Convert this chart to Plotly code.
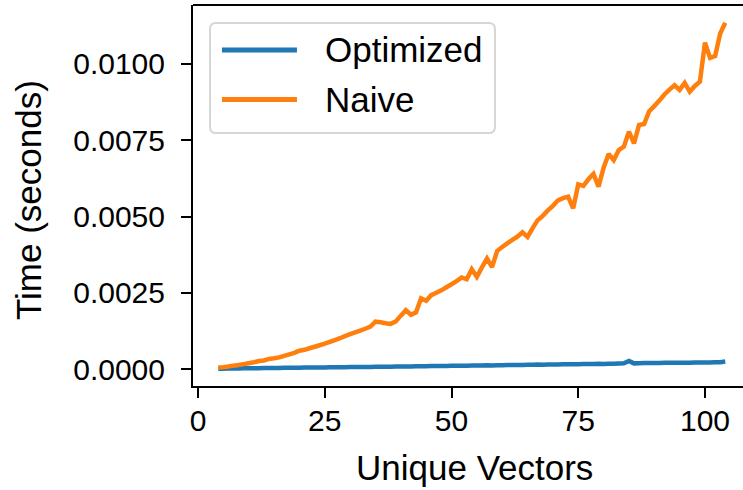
import plotly.graph_objects as go

unique_vectors = list(range(4, 105))

naive = [
    0.00005, 0.00006, 0.00008, 0.00011, 0.00013, 0.00016, 0.00019, 0.00022, 0.00026, 0.00028,
    0.00033, 0.00035, 0.00038, 0.00043, 0.00048, 0.00053, 0.00060, 0.00063, 0.00068, 0.00073,
    0.00078, 0.00083, 0.00089, 0.00095, 0.00101, 0.00108, 0.00114, 0.00120, 0.00126, 0.00132,
    0.00139, 0.00155, 0.00153, 0.00150, 0.00148, 0.00156, 0.00175, 0.00193, 0.00178, 0.00186,
    0.00232, 0.00224, 0.00242, 0.00250, 0.00258, 0.00268, 0.00278, 0.00288, 0.00300, 0.00294,
    0.00327, 0.00302, 0.00333, 0.00362, 0.00334, 0.00387, 0.00400, 0.00412, 0.00423, 0.00434,
    0.00448, 0.00433, 0.00462, 0.00488, 0.00502, 0.00520, 0.00535, 0.00553, 0.00560, 0.00565,
    0.00527, 0.00605, 0.00600, 0.00622, 0.00640, 0.00598, 0.00660, 0.00705, 0.00685, 0.00718,
    0.00729, 0.00778, 0.00740, 0.00800, 0.00803, 0.00845, 0.00862, 0.00880, 0.00900, 0.00916,
    0.00930, 0.00915, 0.00938, 0.00909, 0.00928, 0.00942, 0.01070, 0.01020, 0.01026, 0.01100,
    0.01135,
]

optimized = [
    0.000010, 0.000012, 0.000015, 0.000016, 0.000020, 0.000022, 0.000024, 0.000026, 0.000028, 0.000030,
    0.000032, 0.000034, 0.000036, 0.000038, 0.000040, 0.000041, 0.000044, 0.000046, 0.000047, 0.000049,
    0.000051, 0.000053, 0.000055, 0.000057, 0.000058, 0.000060, 0.000062, 0.000064, 0.000066, 0.000068,
    0.000070, 0.000074, 0.000072, 0.000075, 0.000078, 0.000080, 0.000082, 0.000081, 0.000086, 0.000088,
    0.000092, 0.000090, 0.000095, 0.000097, 0.000099, 0.000101, 0.000106, 0.000104, 0.000109, 0.000110,
    0.000114, 0.000113, 0.000117, 0.000122, 0.000118, 0.000124, 0.000126, 0.000128, 0.000131, 0.000133,
    0.000134, 0.000137, 0.000139, 0.000144, 0.000141, 0.000147, 0.000150, 0.000148, 0.000155, 0.000158,
    0.000154, 0.000160, 0.000163, 0.000165, 0.000168, 0.000171, 0.000167, 0.000176, 0.000172, 0.000182,
    0.000190, 0.000265, 0.000185, 0.000190, 0.000195, 0.000198, 0.000200, 0.000201, 0.000203, 0.000204,
    0.000206, 0.000208, 0.000206, 0.000203, 0.000210, 0.000213, 0.000215, 0.000212, 0.000218, 0.000222,
    0.000245,
]

series_names = ["Optimized", "Naive"]
series_colors = ["#1f77b4", "#ff7f0e"]
x_ticks = [0, 25, 50, 75, 100]
y_ticks = [0.0, 0.0025, 0.005, 0.0075, 0.01]

FONT = "Liberation Sans, Arial, sans-serif"

fig = go.Figure()
for name, vals, col in zip(series_names, [optimized, naive], series_colors):
    fig.add_trace(go.Scatter(x=unique_vectors, y=vals, mode="lines", name=name,
                             line=dict(color=col, width=4.5, simplify=False), showlegend=False))

fig.update_layout(
    width=743, height=490,
    margin=dict(l=193, r=0, t=5, b=104, pad=0),
    paper_bgcolor="white", plot_bgcolor="white",
    font=dict(family=FONT, color="black"),
    xaxis=dict(range=[-0.99, 107.5], tickvals=x_ticks, ticks="outside", ticklen=10, tickwidth=2,
               tickcolor="black", showline=True, linewidth=2, linecolor="black", showgrid=False,
               zeroline=False, tickfont=dict(size=30, family=FONT), ticklabelstandoff=-3),
    yaxis=dict(range=[-0.000557, 0.011934], tickvals=y_ticks, tickformat=".4f", ticks="outside",
               ticklen=10, tickwidth=2, tickcolor="black", showline=True, linewidth=2,
               linecolor="black", showgrid=False, zeroline=False,
               tickfont=dict(size=30, family=FONT), ticklabelstandoff=10),
)

# top spine
fig.add_shape(type="line", xref="paper", yref="paper", x0=0, x1=1, y0=1, y1=1,
              line=dict(color="black", width=2))

# axis titles
fig.add_annotation(text="Unique Vectors", xref="paper", yref="paper", x=0.511, y=-0.215,
                   xanchor="center", yanchor="middle", showarrow=False,
                   font=dict(size=35, family=FONT))
fig.add_annotation(text="Time (seconds)", xref="paper", yref="paper", x=-0.30, y=0.488,
                   xanchor="center", yanchor="middle", textangle=-90, showarrow=False,
                   font=dict(size=35, family=FONT))

# legend box (rounded)
x0, x1, y0, y1 = 0.0309, 0.549, 0.664, 0.953
rx, ry = 0.011, 0.016
path = (f"M{x0+rx},{y0} L{x1-rx},{y0} Q{x1},{y0} {x1},{y0+ry} L{x1},{y1-ry} "
        f"Q{x1},{y1} {x1-rx},{y1} L{x0+rx},{y1} Q{x0},{y1} {x0},{y1-ry} "
        f"L{x0},{y0+ry} Q{x0},{y0} {x0+rx},{y0} Z")
fig.add_shape(type="path", xref="paper", yref="paper", path=path,
              line=dict(color="#d6d6d6", width=2), fillcolor="rgba(255,255,255,0.8)", layer="above")
for name, col, yy in zip(series_names, series_colors, [0.882, 0.752]):
    fig.add_shape(type="line", xref="paper", yref="paper", x0=0.0527, x1=0.189, y0=yy, y1=yy,
                  line=dict(color=col, width=5), layer="above")
    fig.add_annotation(text=name, xref="paper", yref="paper", x=0.236, y=yy,
                       xanchor="left", yanchor="middle", showarrow=False,
                       font=dict(size=35, family=FONT))

fig.write_html("out.html")
